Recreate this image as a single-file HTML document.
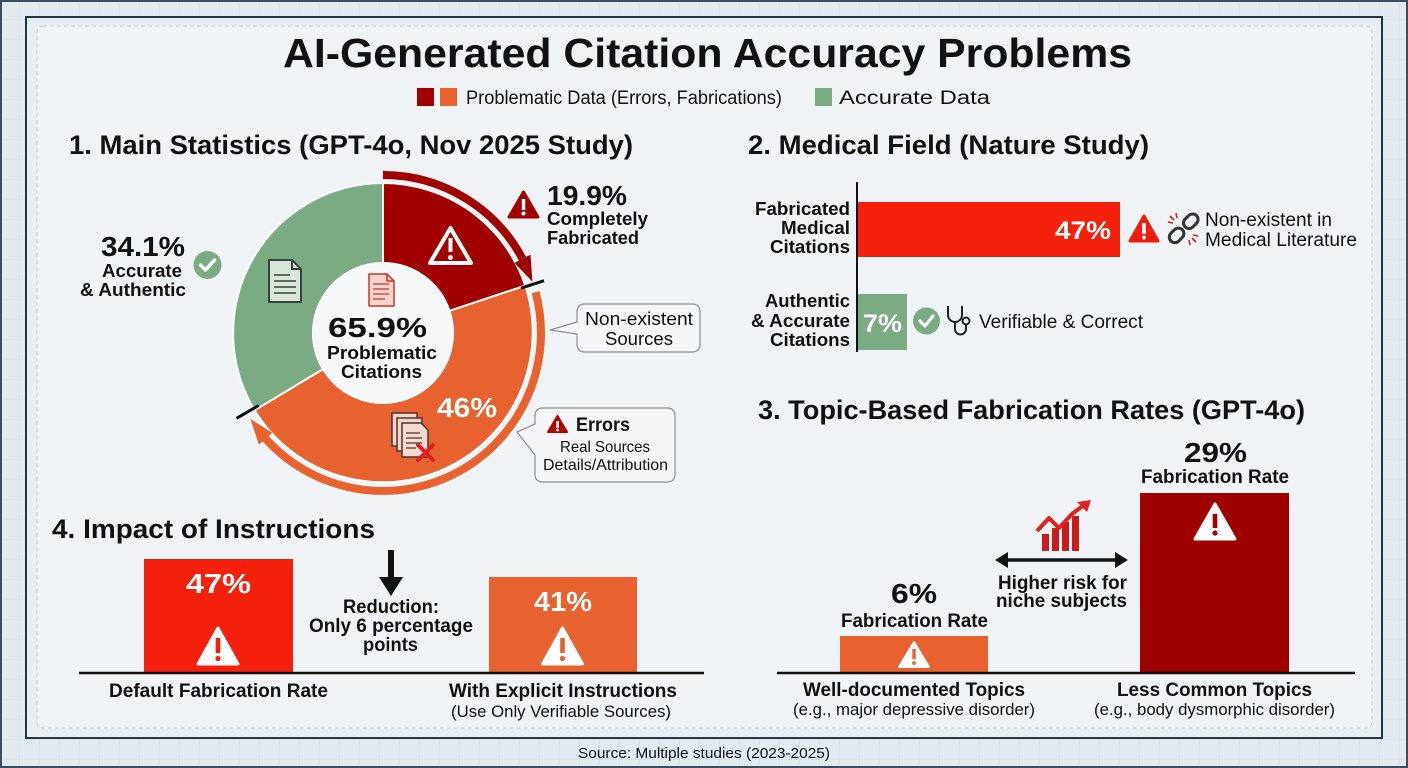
<!DOCTYPE html>
<html>
<head>
<meta charset="utf-8">
<style>
html,body{margin:0;padding:0;background:#e3eaef;}
svg{display:block;}
text{font-family:"Liberation Sans", Arial, sans-serif;fill:#111;}
.b{font-weight:bold;}
.w{fill:#fff;}
</style>
</head>
<body>
<svg width="1408" height="768" viewBox="0 0 1408 768" xmlns="http://www.w3.org/2000/svg">
<defs>
<pattern id="grid" width="20" height="20" patternUnits="userSpaceOnUse">
<path d="M20 0 V20 M0 20 H20" stroke="#cfd9e0" stroke-width="1" fill="none"/>
</pattern>
</defs>
<!-- background -->
<rect x="0" y="0" width="1408" height="768" fill="#e3eaef"/>
<rect x="0" y="0" width="1408" height="768" fill="url(#grid)"/>
<rect x="1" y="1" width="1406" height="766" fill="none" stroke="#3b4c5c" stroke-width="2"/>
<rect x="26" y="17" width="1356" height="721" fill="#e8eef2" stroke="#24384c" stroke-width="2"/>
<rect x="37" y="26" width="1335" height="702" rx="6" fill="#eff3f5" stroke="#c3cbd1" stroke-width="1" stroke-dasharray="4 3"/>

<!-- Title & legend -->
<text x="283" y="67" class="b" font-size="41" textLength="849" lengthAdjust="spacingAndGlyphs">AI-Generated Citation Accuracy Problems</text>
<rect x="417" y="88" width="17" height="18" fill="#a10000"/>
<rect x="440" y="88" width="17" height="18" fill="#e8622f"/>
<text x="466" y="104" font-size="19" textLength="316" lengthAdjust="spacingAndGlyphs">Problematic Data (Errors, Fabrications)</text>
<rect x="815" y="88" width="17" height="18" fill="#7aab83"/>
<text x="839" y="104" font-size="19" textLength="151" lengthAdjust="spacingAndGlyphs">Accurate Data</text>

<!-- Section titles -->
<text x="69" y="154" class="b" font-size="27" textLength="564" lengthAdjust="spacingAndGlyphs">1. Main Statistics (GPT-4o, Nov 2025 Study)</text>
<text x="748" y="154" class="b" font-size="27" textLength="401" lengthAdjust="spacingAndGlyphs">2. Medical Field (Nature Study)</text>
<text x="758" y="419" class="b" font-size="27" textLength="547" lengthAdjust="spacingAndGlyphs">3. Topic-Based Fabrication Rates (GPT-4o)</text>
<text x="52" y="538" class="b" font-size="27" textLength="323" lengthAdjust="spacingAndGlyphs">4. Impact of Instructions</text>

<!-- ===== PIE ===== -->
<path d="M383,183 A150,150 0 0 1 525.3,285.7 L449.4,310.9 A70,70 0 0 0 383,263 Z" fill="#a10000" stroke="#fff" stroke-width="2"/>
<path d="M525.3,285.7 A150,150 0 0 1 254.6,410.3 L323.0,369.1 A70,70 0 0 0 449.4,310.9 Z" fill="#e8622f" stroke="#fff" stroke-width="2"/>
<path d="M254.6,410.3 A150,150 0 0 1 383,183 L383,263 A70,70 0 0 0 323.0,369.1 Z" fill="#7aab83" stroke="#fff" stroke-width="2"/>
<circle cx="383" cy="333" r="69" fill="#f5f7f8"/>

<!-- outer arcs -->
<path d="M383,175 A158,158 0 0 1 522.5,258.8" fill="none" stroke="#a10000" stroke-width="8"/>
<polygon points="514.6,263.0 530.5,254.6 532.4,281.6" fill="#a10000"/>
<path d="M535.6,292.1 A158,158 0 0 1 265.6,438.7" fill="none" stroke="#e8622f" stroke-width="8"/>
<polygon points="272.3,432.7 258.9,444.7 250.5,419.0" fill="#e8622f"/>
<!-- ticks -->
<line x1="520.9" y1="288.2" x2="544" y2="280.7" stroke="#111" stroke-width="3"/>
<line x1="258.7" y1="405.5" x2="236.5" y2="418.3" stroke="#111" stroke-width="3"/>

<!-- red segment warning outline -->
<polygon points="450.5,228 471,263 430,263" fill="none" stroke="#fff" stroke-width="4" stroke-linejoin="round"/>
<rect x="448.5" y="238" width="4" height="14" fill="#fff"/>
<circle cx="450.5" cy="257.5" r="2.4" fill="#fff"/>

<!-- green doc icon -->
<path d="M269,260 H292 L301,269 V302 H269 Z" fill="#d8e6da" stroke="#33443a" stroke-width="2" stroke-linejoin="round"/>
<path d="M292,260 V269 H301" fill="none" stroke="#33443a" stroke-width="2"/>
<path d="M274,275 H290 M274,281 H296 M274,287 H296 M274,293 H296" stroke="#33443a" stroke-width="1.6"/>

<!-- center doc icon -->
<path d="M369,274 H387 L394,281 V306 H369 Z" fill="#f7d3cb" stroke="#c0392b" stroke-width="1.5" stroke-linejoin="round"/>
<path d="M387,274 V281 H394" fill="none" stroke="#c0392b" stroke-width="1.5"/>
<path d="M373,284 H389 M373,289 H389 M373,294 H389 M373,299 H385" stroke="#c0392b" stroke-width="1.2"/>

<!-- stacked docs -->
<rect x="392" y="413" width="25" height="33" fill="#f3d3c8" stroke="#4a3530" stroke-width="1.5"/>
<rect x="397" y="418" width="25" height="33" fill="#f3d3c8" stroke="#4a3530" stroke-width="1.5"/>
<path d="M402,423 H421 L428,430 V457 H402 Z" fill="#f5d8ce" stroke="#4a3530" stroke-width="1.5"/>
<path d="M406,433 H420 M406,438 H422 M406,443 H422 M406,448 H416" stroke="#4a3530" stroke-width="1.2"/>
<path d="M418,445 L433,460 M433,445 L418,460" stroke="#e02020" stroke-width="4" stroke-linecap="round"/>

<!-- pie labels -->
<text x="101" y="256" class="b" font-size="28" textLength="84" lengthAdjust="spacingAndGlyphs">34.1%</text>
<text x="102" y="277" class="b" font-size="18" textLength="80" lengthAdjust="spacingAndGlyphs">Accurate</text>
<text x="80" y="296" class="b" font-size="18" textLength="106" lengthAdjust="spacingAndGlyphs">&amp; Authentic</text>
<circle cx="207.5" cy="265" r="14" fill="#7aab83"/>
<path d="M200.5,265 L205.5,270 L214.5,260" fill="none" stroke="#fff" stroke-width="3.5" stroke-linecap="round" stroke-linejoin="round"/>

<polygon points="523.5,192 538,217 509,217" fill="#a10000" stroke="#a10000" stroke-width="3" stroke-linejoin="round"/>
<rect x="521.8" y="199" width="3.5" height="11" fill="#fff"/>
<circle cx="523.5" cy="213.5" r="2" fill="#fff"/>
<text x="547" y="205" class="b" font-size="28" textLength="80" lengthAdjust="spacingAndGlyphs">19.9%</text>
<text x="547" y="225" class="b" font-size="18" textLength="101" lengthAdjust="spacingAndGlyphs">Completely</text>
<text x="547" y="244" class="b" font-size="18" textLength="92" lengthAdjust="spacingAndGlyphs">Fabricated</text>

<text x="328" y="337" class="b" font-size="28" textLength="99" lengthAdjust="spacingAndGlyphs">65.9%</text>
<text x="327" y="359" class="b" font-size="18" textLength="110" lengthAdjust="spacingAndGlyphs">Problematic</text>
<text x="341" y="378" class="b" font-size="18" textLength="81" lengthAdjust="spacingAndGlyphs">Citations</text>
<text x="437" y="417" class="b w" font-size="28" textLength="60" lengthAdjust="spacingAndGlyphs">46%</text>

<!-- callout: Non-existent Sources -->
<path d="M585,304 H692 Q700,304 700,312 V344 Q700,352 692,352 H585 Q577,352 577,344 V334 L550,330 L577,322 V312 Q577,304 585,304 Z" fill="#f3f5f6" stroke="#8a8f93" stroke-width="1.2"/>
<text x="585" y="325" font-size="18" textLength="108" lengthAdjust="spacingAndGlyphs">Non-existent</text>
<text x="605" y="345" font-size="18" textLength="68" lengthAdjust="spacingAndGlyphs">Sources</text>

<!-- callout: Errors -->
<path d="M543,408 H667 Q675,408 675,416 V474 Q675,482 667,482 H543 Q535,482 535,474 V455 L517,432 L535,424 V416 Q535,408 543,408 Z" fill="#f3f5f6" stroke="#8a8f93" stroke-width="1.2"/>
<polygon points="557.5,416 567,432 548,432" fill="#b00000" stroke="#b00000" stroke-width="2" stroke-linejoin="round"/>
<rect x="556.3" y="421" width="2.6" height="7" fill="#fff"/>
<circle cx="557.6" cy="430" r="1.4" fill="#fff"/>
<text x="576" y="431" class="b" font-size="19" textLength="54" lengthAdjust="spacingAndGlyphs">Errors</text>
<text x="560" y="452" font-size="16" textLength="90" lengthAdjust="spacingAndGlyphs">Real Sources</text>
<text x="543" y="470" font-size="16" textLength="125" lengthAdjust="spacingAndGlyphs">Details/Attribution</text>

<!-- ===== SECTION 2 ===== -->
<line x1="857" y1="182" x2="857" y2="352" stroke="#111" stroke-width="2"/>
<rect x="858" y="202" width="262" height="55" fill="#f3200c"/>
<rect x="858" y="294" width="49" height="56" fill="#7aab83"/>
<text x="755" y="215" class="b" font-size="18" textLength="95" lengthAdjust="spacingAndGlyphs">Fabricated</text>
<text x="781" y="234" class="b" font-size="18" textLength="69" lengthAdjust="spacingAndGlyphs">Medical</text>
<text x="770" y="253" class="b" font-size="18" textLength="80" lengthAdjust="spacingAndGlyphs">Citations</text>
<text x="765" y="307" class="b" font-size="18" textLength="85" lengthAdjust="spacingAndGlyphs">Authentic</text>
<text x="751" y="327" class="b" font-size="18" textLength="99" lengthAdjust="spacingAndGlyphs">&amp; Accurate</text>
<text x="770" y="346" class="b" font-size="18" textLength="80" lengthAdjust="spacingAndGlyphs">Citations</text>
<text x="1055" y="239" class="b w" font-size="25" textLength="56" lengthAdjust="spacingAndGlyphs">47%</text>
<text x="863" y="332" class="b w" font-size="25" textLength="39" lengthAdjust="spacingAndGlyphs">7%</text>

<polygon points="1144,216 1158,241 1130,241" fill="#ee1c0c" stroke="#ee1c0c" stroke-width="3" stroke-linejoin="round"/>
<rect x="1142.2" y="223" width="3.6" height="11" fill="#fff"/>
<circle cx="1144" cy="237.5" r="2" fill="#fff"/>
<!-- broken link -->
<g transform="translate(1183,229) rotate(-45)">
<rect x="-17" y="-5.5" width="16" height="11" rx="5.5" fill="none" stroke="#333" stroke-width="3"/>
<rect x="3" y="-5.5" width="16" height="11" rx="5.5" fill="none" stroke="#333" stroke-width="3"/>
</g>
<path d="M1170,216 L1174,220 M1176,213 L1177,218 M1168,222 L1173,223 M1196,242 L1192,238 M1190,245 L1189,240 M1198,236 L1193,235" stroke="#d02020" stroke-width="1.6"/>
<text x="1205" y="226" font-size="19" textLength="127" lengthAdjust="spacingAndGlyphs">Non-existent in</text>
<text x="1205" y="246" font-size="19" textLength="152" lengthAdjust="spacingAndGlyphs">Medical Literature</text>

<circle cx="926.5" cy="321" r="13.5" fill="#7aab83"/>
<path d="M920,321 L925,326 L933,316" fill="none" stroke="#fff" stroke-width="3.2" stroke-linecap="round" stroke-linejoin="round"/>
<!-- stethoscope -->
<path d="M948,306 V315 A7,7 0 0 0 962,315 V306 M955,322 V329 A5.5,5.5 0 0 0 966,329 V325" fill="none" stroke="#222" stroke-width="2"/>
<circle cx="966" cy="321" r="3.5" fill="none" stroke="#222" stroke-width="2"/>
<text x="979" y="328" font-size="19" textLength="164" lengthAdjust="spacingAndGlyphs">Verifiable &amp; Correct</text>

<!-- ===== SECTION 3 ===== -->
<rect x="840" y="636" width="148" height="37" fill="#e8622f"/>
<rect x="1140" y="493" width="149" height="180" fill="#9e0000"/>
<line x1="777" y1="673" x2="1355" y2="673" stroke="#111" stroke-width="2.5"/>
<polygon points="914,642 929,667 899,667" fill="#fff" stroke="#fff" stroke-width="2" stroke-linejoin="round"/>
<rect x="912.3" y="649" width="3.4" height="10" fill="#e8622f"/>
<circle cx="914" cy="663" r="1.9" fill="#e8622f"/>
<polygon points="1215,504 1235,539 1195,539" fill="#fff" stroke="#fff" stroke-width="3" stroke-linejoin="round"/>
<rect x="1212.7" y="514" width="4.6" height="14" fill="#9e0000"/>
<circle cx="1215" cy="533" r="2.6" fill="#9e0000"/>

<text x="1184" y="462" class="b" font-size="28" textLength="63" lengthAdjust="spacingAndGlyphs">29%</text>
<text x="1141" y="483" class="b" font-size="19" textLength="148" lengthAdjust="spacingAndGlyphs">Fabrication Rate</text>
<text x="891" y="603" class="b" font-size="28" textLength="46" lengthAdjust="spacingAndGlyphs">6%</text>
<text x="841" y="627" class="b" font-size="19" textLength="147" lengthAdjust="spacingAndGlyphs">Fabrication Rate</text>

<!-- chart icon -->
<rect x="1042" y="534" width="7" height="17" fill="#c81c1c"/>
<rect x="1052" y="528" width="7" height="23" fill="#c81c1c"/>
<rect x="1062" y="522" width="7" height="29" fill="#c81c1c"/>
<rect x="1072" y="516" width="7" height="35" fill="#c81c1c"/>
<polyline points="1037,531 1049,518 1059,528 1072,514 1084,505" fill="none" stroke="#e02020" stroke-width="4" stroke-linejoin="round"/>
<polygon points="1091,500 1077,502 1087,512" fill="#e02020"/>

<!-- double arrow -->
<line x1="1004" y1="560" x2="1119" y2="560" stroke="#111" stroke-width="3.5"/>
<polygon points="995,560 1008,552 1008,568" fill="#111"/>
<polygon points="1128,560 1115,552 1115,568" fill="#111"/>
<text x="998" y="589" class="b" font-size="19" textLength="129" lengthAdjust="spacingAndGlyphs">Higher risk for</text>
<text x="996" y="607" class="b" font-size="19" textLength="131" lengthAdjust="spacingAndGlyphs">niche subjects</text>

<text x="803" y="696" class="b" font-size="19" textLength="222" lengthAdjust="spacingAndGlyphs">Well-documented Topics</text>
<text x="793" y="715" font-size="17" textLength="242" lengthAdjust="spacingAndGlyphs">(e.g., major depressive disorder)</text>
<text x="1117" y="696" class="b" font-size="19" textLength="195" lengthAdjust="spacingAndGlyphs">Less Common Topics</text>
<text x="1094" y="715" font-size="17" textLength="241" lengthAdjust="spacingAndGlyphs">(e.g., body dysmorphic disorder)</text>

<!-- ===== SECTION 4 ===== -->
<rect x="144" y="559" width="149" height="114" fill="#f3200c"/>
<rect x="489" y="577" width="148" height="96" fill="#e8622f"/>
<line x1="79" y1="673" x2="704" y2="673" stroke="#111" stroke-width="2.5"/>
<text x="186" y="593" class="b w" font-size="28" textLength="65" lengthAdjust="spacingAndGlyphs">47%</text>
<text x="534" y="611" class="b w" font-size="28" textLength="58" lengthAdjust="spacingAndGlyphs">41%</text>
<polygon points="218,628 238,664 198,664" fill="#fff" stroke="#fff" stroke-width="3" stroke-linejoin="round"/>
<rect x="215.7" y="638" width="4.6" height="15" fill="#f3200c"/>
<circle cx="218" cy="658.5" r="2.6" fill="#f3200c"/>
<polygon points="562.5,628 582.5,664 542.5,664" fill="#fff" stroke="#fff" stroke-width="3" stroke-linejoin="round"/>
<rect x="560.2" y="638" width="4.6" height="15" fill="#e8622f"/>
<circle cx="562.5" cy="658.5" r="2.6" fill="#e8622f"/>

<line x1="391" y1="550" x2="391" y2="580" stroke="#111" stroke-width="6"/>
<polygon points="379,577 403,577 391,596" fill="#111"/>
<text x="343" y="613" class="b" font-size="19" textLength="96" lengthAdjust="spacingAndGlyphs">Reduction:</text>
<text x="309" y="632" class="b" font-size="19" textLength="164" lengthAdjust="spacingAndGlyphs">Only 6 percentage</text>
<text x="363" y="651" class="b" font-size="19" textLength="55" lengthAdjust="spacingAndGlyphs">points</text>

<text x="109" y="697" class="b" font-size="19" textLength="219" lengthAdjust="spacingAndGlyphs">Default Fabrication Rate</text>
<text x="449" y="697" class="b" font-size="19" textLength="228" lengthAdjust="spacingAndGlyphs">With Explicit Instructions</text>
<text x="451" y="717" font-size="17" textLength="220" lengthAdjust="spacingAndGlyphs">(Use Only Verifiable Sources)</text>

<!-- source -->
<text x="578" y="758" font-size="15" textLength="252" lengthAdjust="spacingAndGlyphs">Source: Multiple studies (2023-2025)</text>
</svg>
</body>
</html>
